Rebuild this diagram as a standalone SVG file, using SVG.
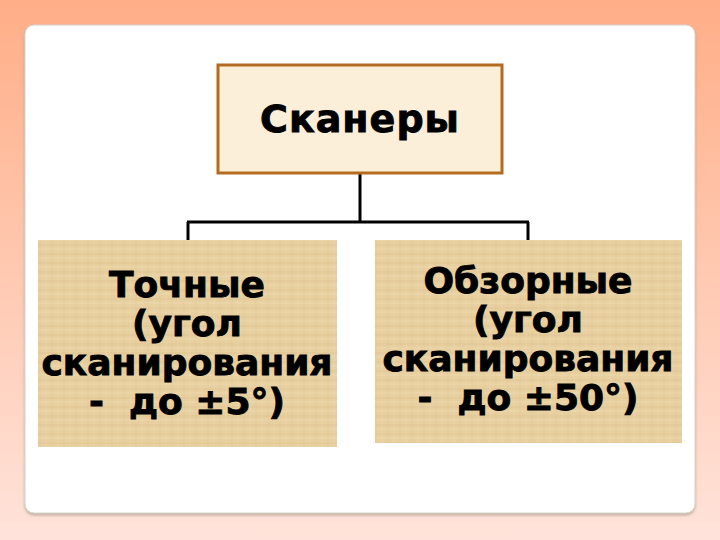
<svg xmlns="http://www.w3.org/2000/svg" width="720" height="540" viewBox="0 0 720 540">
  <defs>
    <linearGradient id="bg" x1="0" y1="0" x2="0" y2="1">
      <stop offset="0" stop-color="#FFAE87"/>
      <stop offset="1" stop-color="#FFE3DA"/>
    </linearGradient>
    <pattern id="papyrus" width="12" height="9" patternUnits="userSpaceOnUse">
      <rect width="12" height="9" fill="#E7CF9F"/>
      <line x1="0" y1="2" x2="12" y2="2" stroke="#D8BC86" stroke-width="0.8" opacity="0.6"/>
      <line x1="0" y1="6" x2="12" y2="6" stroke="#F0DEB8" stroke-width="0.8" opacity="0.7"/>
      <line x1="4" y1="0" x2="4" y2="9" stroke="#D9C08C" stroke-width="0.6" opacity="0.5"/>
      <line x1="10" y1="0" x2="10" y2="9" stroke="#EFDCB3" stroke-width="0.6" opacity="0.6"/>
    </pattern>
    <filter id="shadow" x="-5%" y="-5%" width="110%" height="110%">
      <feDropShadow dx="0" dy="2" stdDeviation="1.5" flood-color="#9A8F80" flood-opacity="0.6"/>
    </filter>
  </defs>
  <style>
    .lbl { font-family: "DejaVu Sans", "Liberation Sans", sans-serif; font-weight: bold; fill: #000; stroke: #000; stroke-width: 0.9; text-anchor: middle; white-space: pre; }
    .big { font-size: 36px; }
    .title { font-size: 38px; letter-spacing: 1px; }
    .conn { stroke: #000; stroke-width: 3; fill: none; }
  </style>

  <rect x="0" y="0" width="720" height="540" fill="url(#bg)"/>
  <rect x="25" y="25" width="670" height="488" rx="9" ry="9" fill="#FFFFFF" stroke="#D8D4C8" stroke-width="1" filter="url(#shadow)"/>

  <g id="connectors">
    <line class="conn" x1="360" y1="173" x2="360" y2="222"/>
    <line class="conn" x1="187" y1="222" x2="529" y2="222"/>
    <line class="conn" x1="188" y1="222" x2="188" y2="240"/>
    <line class="conn" x1="528" y1="222" x2="528" y2="240"/>
  </g>

  <g id="node-scanners">
    <rect x="218" y="65" width="284" height="108" fill="#FBEFD9" stroke="#B36C1F" stroke-width="3"/>
    <text class="lbl title" x="360" y="132">Сканеры</text>
  </g>

  <g id="node-precise">
    <rect x="38" y="240" width="299" height="207" fill="url(#papyrus)"/>
    <text class="lbl big" x="187" y="297">Точные</text>
    <text class="lbl big" x="187" y="336">(угол</text>
    <text class="lbl big" x="187" y="375">сканирования</text>
    <text class="lbl big" x="187" y="414" xml:space="preserve">-  до ±5°)</text>
  </g>

  <g id="node-survey">
    <rect x="375" y="240" width="307" height="203" fill="url(#papyrus)"/>
    <text class="lbl big" x="528" y="293">Обзорные</text>
    <text class="lbl big" x="528" y="332">(угол</text>
    <text class="lbl big" x="528" y="371">сканирования</text>
    <text class="lbl big" x="528" y="410" xml:space="preserve">-  до ±50°)</text>
  </g>
</svg>
